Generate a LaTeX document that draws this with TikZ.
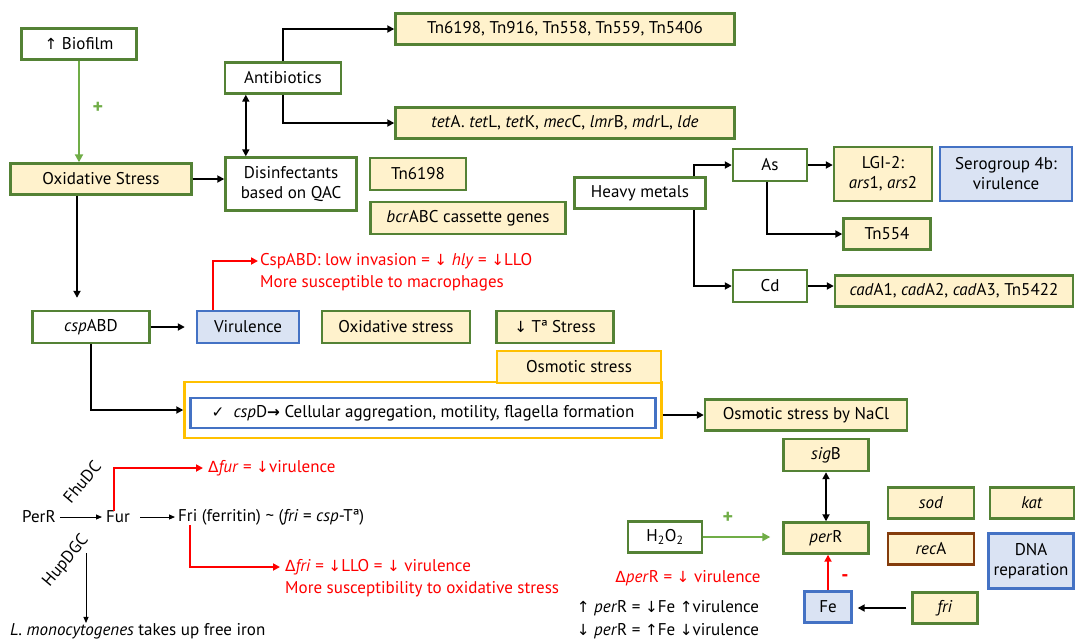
\documentclass[tikz,border=0pt]{standalone}
\usepackage{fontspec}
\setmainfont{PT Sans}
\newfontfamily\symf[Scale=0.9]{DejaVu Sans}
\usetikzlibrary{arrows.meta}
\definecolor{grn}{HTML}{548235}
\definecolor{ylw}{HTML}{FFF2CC}
\definecolor{blu}{HTML}{4472C4}
\definecolor{lblu}{HTML}{DAE3F3}
\definecolor{gold}{HTML}{FFC000}
\definecolor{brn}{HTML}{843C0C}
\definecolor{lgrn}{HTML}{70AD47}
\newcommand{\myup}{{\symf ↑}}
\newcommand{\mydn}{{\symf ↓}}
\newcommand{\mydelta}{{\symf Δ}}
\newcommand{\mychk}{{\symf ✓}}
\begin{document}
\begin{tikzpicture}[x=1pt,y=-1pt,font=\fontsize{17}{20}\selectfont,
  box/.style={draw=grn, line width=2.4pt, fill=white, align=center, inner sep=1pt, text=black},
  ybox/.style={box, fill=ylw},
  bbox/.style={box, draw=blu, fill=lblu},
  wh/.style 2 args={minimum width=#1pt, minimum height=#2pt},
  arr/.style={line width=1.8pt, -{Triangle[length=7pt,width=7pt]}},
  darr/.style={line width=1.8pt, {Triangle[length=7pt,width=7pt]}-{Triangle[length=7pt,width=7pt]}},
  garr/.style={draw=lgrn, line width=2.6pt, -{Triangle[length=8pt,width=8pt]}},
  rarr/.style={draw=red, line width=2.6pt, -{Triangle[length=7pt,width=7pt]}},
  tarr/.style={line width=0.9pt, -{Triangle[length=6pt,width=5pt]}},
  lbl/.style={inner sep=0pt, anchor=west},
  rtxt/.style={lbl, text=red},
  rot/.style={rotate=50, inner sep=0pt},
  sign/.style={font=\fontsize{20}{20}\selectfont\bfseries}]
\useasboundingbox (0,0) rectangle (1076,641);
% boxes
\node[box, wh={115}{31}] (bio) at (79,44) {\myup\ Biofilm};
\node[ybox, wh={181}{31}] (oxs) at (101,179) {Oxidative Stress};
\node[box, wh={116}{31}] (anti) at (283,78) {Antibiotics};
\node[box, wh={131}{53}] (dis) at (291,184) {Disinfectants\\based on QAC};
\node[ybox, wh={339}{31}] (tnl) at (565,29) {Tn6198, Tn916, Tn558, Tn559, Tn5406};
\node[ybox, wh={339}{31}] (tet) at (565,123) {\textit{tet}A. \textit{tet}L, \textit{tet}K, \textit{mec}C, \textit{lmr}B, \textit{mdr}L, \textit{lde}};
\node[ybox, wh={96}{32}] (tn6) at (418,174) {Tn6198};
\node[ybox, wh={195}{32}] (bcr) at (468,218) {\textit{bcr}ABC cassette genes};
\node[box, wh={131}{31}] (hm) at (640,193) {Heavy metals};
\node[box, wh={74}{32}] (as) at (770,165) {As};
\node[ybox, wh={98}{54}] (lgi) at (883,174) {LGI-2:\\\textit{ars}1, \textit{ars}2};
\node[bbox, wh={132}{54}] (sero) at (1006,174) {Serogroup 4b:\\virulence};
\node[ybox, wh={87}{31}] (tnf) at (887,234) {Tn554};
\node[box, wh={74}{32}] (cd) at (770,286) {Cd};
\node[ybox, wh={238}{31}] (cad) at (954,291) {\textit{cad}A1, \textit{cad}A2, \textit{cad}A3, Tn5422};
\node[box, wh={117}{32}] (csp) at (91,327) {\textit{csp}ABD};
\node[bbox, wh={102}{32}] (vir) at (248,327) {Virulence};
\node[ybox, wh={148}{32}] (oxs2) at (396,327) {Oxidative stress};
\node[ybox, wh={117}{32}] (lowt) at (555,327) {\mydn\ Tª Stress};
\node[box, draw=gold, wh={477}{56}] (big) at (423,410) {};
\node[ybox, draw=gold, wh={164}{32}] (osm) at (579,367) {Osmotic stress};
\node[box, draw=blu, wh={465}{30}] (inner) at (423,413) {\mychk\ \ \textit{csp}D{\symf\bfseries →} Cellular aggregation, motility, flagella formation};
\node[ybox, wh={202}{31}] (nacl) at (806,415) {Osmotic stress by NaCl};
\node[ybox, wh={85}{32}] (sig) at (826,455) {\textit{sig}B};
\node[ybox, wh={85}{31}] (per) at (826,538) {\textit{per}R};
\node[ybox, wh={86}{31}] (sod) at (931,503) {\textit{sod}};
\node[ybox, wh={84}{31}] (kat) at (1032,503) {\textit{kat}};
\node[ybox, draw=brn, wh={86}{31}] (rec) at (931,549) {\textit{rec}A};
\node[bbox, wh={85}{55}] (dna) at (1031,561) {DNA\\reparation};
\node[box, wh={74}{31}] (h2o) at (665,537) {H\textsubscript{2}O\textsubscript{2}};
\node[bbox, wh={47}{31}] (fe) at (828,607) {Fe};
\node[ybox, wh={65}{31}] (fri) at (945,608) {\textit{fri}};
% texts
\node[rtxt] (c1) at (260,261) {CspABD: low invasion = \mydn\ \textit{hly} = \mydn LLO};
\node[rtxt] (c2) at (260,283) {More susceptible to macrophages};
\node[lbl] (perRt) at (22,517) {PerR};
\node[lbl] (furt) at (106,517) {Fur};
\node[lbl] (frit) at (178,517) {Fri (ferritin) \textasciitilde{} (\textit{fri} = \textit{csp}-Tª)};
\node[rot] (fhu) at (82,482) {FhuDC};
\node[rot] (hup) at (66,561) {HupDGC};
\node[lbl] (lmono) at (10,631) {\textit{L. monocytogenes} takes up free iron};
\node[rtxt] (dfur) at (208,468) {\mydelta\textit{fur} = \mydn virulence};
\node[rtxt] (dfri) at (285,567) {\mydelta\textit{fri} = \mydn LLO = \mydn\ virulence};
\node[rtxt] (dfri2) at (285,589) {More susceptibility to oxidative stress};
\node[text=red] (dper) at (688,578) {\mydelta\textit{per}R = \mydn\ virulence};
\node (up1) at (668,608) {\myup\ \textit{per}R = \mydn Fe \myup virulence};
\node (up2) at (668,631) {\mydn\ \textit{per}R = \myup Fe \mydn virulence};
\node[sign, text=lgrn] (plus1) at (98,108) {+};
\node[sign, text=lgrn] (plus2) at (728,518) {+};
\node[sign, text=red] (minus) at (845,578) {-};
% connectors
\draw[garr] (bio.south) -- (bio.south |- oxs.north);
\draw[arr] (oxs.east) -- (oxs.east -| dis.west);
\coordinate (d1) at ([xshift=22pt]anti.south west);
\draw[darr] (d1) -- (d1 |- dis.north);
\draw[arr] (anti.north) |- (tnl.west);
\draw[arr] (anti.south) |- (tet.west);
\coordinate (h1) at ([xshift=-13pt]hm.north east);
\coordinate (h2) at ([xshift=-13pt]hm.south east);
\draw[arr] (h1) |- (as.west);
\draw[arr] (h2) |- (cd.west);
\draw[arr] (as.east) -- (as.east -| lgi.west);
\coordinate (a2) at ([xshift=-3pt]as.south);
\draw[arr] (a2) |- (tnf.west);
\draw[arr] (cd.east) -- (cd.east -| cad.west);
\coordinate (o1) at ([xshift=-24pt]oxs.south);
\draw[arr, shorten >=12pt] (o1) -- (o1 |- csp.north);
\draw[arr, shorten >=11pt] (csp.east) -- (csp.east -| vir.west);
\coordinate (v1) at ([xshift=-35pt]vir.north);
\draw[rarr] (v1) |- ([xshift=-2pt]c1.west);
\draw[arr] (csp.south) |- (big.west);
\draw[arr] (nacl.west -| big.east) -- (nacl.west);
\draw[darr] (sig.south) -- (per.north);
\draw[garr, line width=2pt, shorten >=12pt] (h2o.east) -- (h2o.east -| per.west);
\draw[rarr] (fe.north) -- (fe.north |- per.south);
\draw[arr, shorten >=5pt, shorten <=5pt] (fri.west) -- (fri.west -| fe.east);
\draw[tarr, shorten <=4pt, shorten >=4pt] (perRt.east) -- (furt.west);
\draw[tarr, shorten <=10pt, shorten >=3pt] (furt.east) -- (frit.west);
\coordinate (f1) at ([xshift=-4pt]furt.north);
\draw[rarr] (f1) |- ([xshift=-5pt]dfur.west);
\coordinate (r1) at ([xshift=12pt]frit.south west);
\draw[rarr] (r1) |- ([xshift=-5pt]dfri.west);
\coordinate (k1) at (86,553);
\draw[tarr] (k1) -- (k1 |- lmono.north);
\end{tikzpicture}
\end{document}
